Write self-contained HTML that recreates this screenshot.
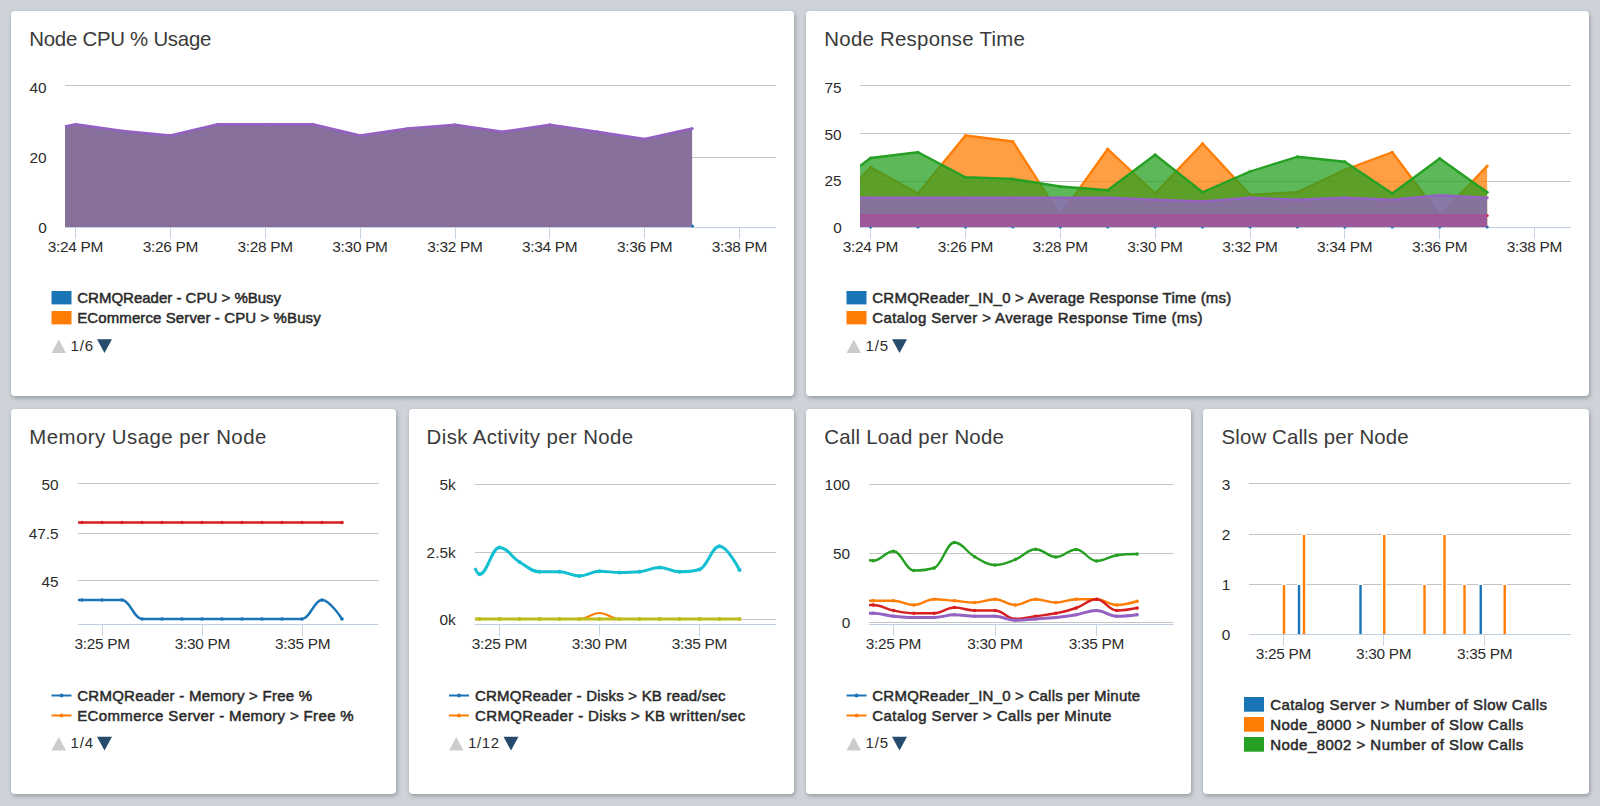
<!DOCTYPE html>
<html lang="en"><head><meta charset="utf-8"><title>Node Dashboard</title>
<style>
html,body{margin:0;padding:0;}
body{width:1600px;height:806px;background:#ced3d9;position:relative;overflow:hidden;font-family:"Liberation Sans", "DejaVu Sans", sans-serif;}
.p{position:absolute;background:#fff;border-radius:4px;box-shadow:1px 2px 4px rgba(0,0,0,0.28);}
svg{position:absolute;left:0;top:0;}
svg text{font-family:"Liberation Sans", "DejaVu Sans", sans-serif;}
.sb{fill:#2a2a2a;stroke:#2a2a2a;stroke-width:0.5px;paint-order:stroke fill;}
.t{fill:#3a3a3a;}
</style></head><body>
<div class="p" style="left:11px;top:11px;width:783px;height:385px"></div>
<div class="p" style="left:806px;top:11px;width:783px;height:385px"></div>
<div class="p" style="left:11px;top:408.5px;width:385px;height:385px"></div>
<div class="p" style="left:409px;top:408.5px;width:385px;height:385px"></div>
<div class="p" style="left:806px;top:408.5px;width:385px;height:385px"></div>
<div class="p" style="left:1203px;top:408.5px;width:386px;height:385px"></div>
<svg width="1600" height="806" viewBox="0 0 1600 806">
<text x="29.3" y="46" font-size="20.4" class="t" fill="#2c2c2c" textLength="182">Node CPU % Usage</text>
<text x="824.3" y="46" font-size="20.4" class="t" fill="#2c2c2c" textLength="200.5">Node Response Time</text>
<text x="29.3" y="443.5" font-size="20.4" class="t" fill="#2c2c2c" textLength="237">Memory Usage per Node</text>
<text x="426.6" y="443.5" font-size="20.4" class="t" fill="#2c2c2c" textLength="206.5">Disk Activity per Node</text>
<text x="824.3" y="443.5" font-size="20.4" class="t" fill="#2c2c2c" textLength="179.5">Call Load per Node</text>
<text x="1221.6" y="443.5" font-size="20.4" class="t" fill="#2c2c2c" textLength="187">Slow Calls per Node</text>
<g id="c1">
<path d="M65 85.5H776" stroke="#c4c4c4" stroke-width="1" fill="none"/>
<path d="M65 157.5H776" stroke="#c4c4c4" stroke-width="1" fill="none"/>
<path d="M65 227.5H776" stroke="#c0d0e0" stroke-width="1" fill="none"/>
<path d="M75.5 227.5V239" stroke="#c6d4e3" stroke-width="1" fill="none"/>
<path d="M170.5 227.5V239" stroke="#c6d4e3" stroke-width="1" fill="none"/>
<path d="M265.5 227.5V239" stroke="#c6d4e3" stroke-width="1" fill="none"/>
<path d="M360.5 227.5V239" stroke="#c6d4e3" stroke-width="1" fill="none"/>
<path d="M455.5 227.5V239" stroke="#c6d4e3" stroke-width="1" fill="none"/>
<path d="M549.5 227.5V239" stroke="#c6d4e3" stroke-width="1" fill="none"/>
<path d="M644.5 227.5V239" stroke="#c6d4e3" stroke-width="1" fill="none"/>
<path d="M739.5 227.5V239" stroke="#c6d4e3" stroke-width="1" fill="none"/>
<text x="46.7" y="92.7" font-size="15.4" text-anchor="end" fill="#2c2c2c">40</text>
<text x="46.7" y="163" font-size="15.4" text-anchor="end" fill="#2c2c2c">20</text>
<text x="46.7" y="233.2" font-size="15.4" text-anchor="end" fill="#2c2c2c">0</text>
<text x="75.6" y="252" font-size="15.4" text-anchor="middle" fill="#2c2c2c" textLength="55.6">3:24 PM</text>
<text x="170.45" y="252" font-size="15.4" text-anchor="middle" fill="#2c2c2c" textLength="55.6">3:26 PM</text>
<text x="265.3" y="252" font-size="15.4" text-anchor="middle" fill="#2c2c2c" textLength="55.6">3:28 PM</text>
<text x="360.15" y="252" font-size="15.4" text-anchor="middle" fill="#2c2c2c" textLength="55.6">3:30 PM</text>
<text x="455" y="252" font-size="15.4" text-anchor="middle" fill="#2c2c2c" textLength="55.6">3:32 PM</text>
<text x="549.85" y="252" font-size="15.4" text-anchor="middle" fill="#2c2c2c" textLength="55.6">3:34 PM</text>
<text x="644.7" y="252" font-size="15.4" text-anchor="middle" fill="#2c2c2c" textLength="55.6">3:36 PM</text>
<text x="739.55" y="252" font-size="15.4" text-anchor="middle" fill="#2c2c2c" textLength="55.6">3:38 PM</text>
<path d="M65 126.5L75.6 124.25L123.02 131L170.45 135.5L217.87 124.25L265.3 124.25L312.73 124.25L360.15 135.5L407.57 128.5L455 124.75L502.42 131.75L549.85 124.75L597.27 131.75L644.7 139L692.12 128.5L692.12 227L65 227Z" fill="#87719c"/>
<path d="M65 126.5L75.6 124.25L123.02 131L170.45 135.5L217.87 124.25L265.3 124.25L312.73 124.25L360.15 135.5L407.57 128.5L455 124.75L502.42 131.75L549.85 124.75L597.27 131.75L644.7 139L692.12 128.5" stroke="#9560c4" stroke-width="2.5" fill="none" stroke-linejoin="round"/>
<circle cx="75.6" cy="124.25" r="1.5" fill="#9563be"/>
<circle cx="123.02" cy="131" r="1.5" fill="#9563be"/>
<circle cx="170.45" cy="135.5" r="1.5" fill="#9563be"/>
<circle cx="217.87" cy="124.25" r="1.5" fill="#9563be"/>
<circle cx="265.3" cy="124.25" r="1.5" fill="#9563be"/>
<circle cx="312.73" cy="124.25" r="1.5" fill="#9563be"/>
<circle cx="360.15" cy="135.5" r="1.5" fill="#9563be"/>
<circle cx="407.57" cy="128.5" r="1.5" fill="#9563be"/>
<circle cx="455" cy="124.75" r="1.5" fill="#9563be"/>
<circle cx="502.42" cy="131.75" r="1.5" fill="#9563be"/>
<circle cx="549.85" cy="124.75" r="1.5" fill="#9563be"/>
<circle cx="597.27" cy="131.75" r="1.5" fill="#9563be"/>
<circle cx="644.7" cy="139" r="1.5" fill="#9563be"/>
<circle cx="692.12" cy="128.5" r="1.5" fill="#9563be"/>
<circle cx="692.5" cy="226" r="1.5" fill="#1a75b7"/>
<rect x="51.5" y="291" width="20" height="13.4" fill="#1a75b7"/>
<text x="77.2" y="303" font-size="15" class="sb" fill="#2c2c2c" textLength="203.9">CRMQReader - CPU &gt; %Busy</text>
<rect x="51.5" y="311" width="20" height="13.4" fill="#ff7d04"/>
<text x="77.2" y="323" font-size="15" class="sb" fill="#2c2c2c" textLength="243.5">ECommerce Server - CPU &gt; %Busy</text>
<path d="M51.5 353L58.75 339.5L66 353Z" fill="#cccccc"/>
<text x="70.5" y="350.5" font-size="15" fill="#2c2c2c" textLength="22.5">1/6</text>
<path d="M97 339.25L112 339.25L104.5 353Z" fill="#274b6d"/>
</g>
<g id="c2">
<path d="M860 85.5H1571" stroke="#c4c4c4" stroke-width="1" fill="none"/>
<path d="M860 133.5H1571" stroke="#c4c4c4" stroke-width="1" fill="none"/>
<path d="M860 181.5H1571" stroke="#c4c4c4" stroke-width="1" fill="none"/>
<path d="M860 227.5H1571" stroke="#c0d0e0" stroke-width="1" fill="none"/>
<path d="M870.5 227.5V239" stroke="#c6d4e3" stroke-width="1" fill="none"/>
<path d="M965.5 227.5V239" stroke="#c6d4e3" stroke-width="1" fill="none"/>
<path d="M1060.5 227.5V239" stroke="#c6d4e3" stroke-width="1" fill="none"/>
<path d="M1155.5 227.5V239" stroke="#c6d4e3" stroke-width="1" fill="none"/>
<path d="M1250.5 227.5V239" stroke="#c6d4e3" stroke-width="1" fill="none"/>
<path d="M1344.5 227.5V239" stroke="#c6d4e3" stroke-width="1" fill="none"/>
<path d="M1439.5 227.5V239" stroke="#c6d4e3" stroke-width="1" fill="none"/>
<path d="M1534.5 227.5V239" stroke="#c6d4e3" stroke-width="1" fill="none"/>
<text x="841.7" y="92.7" font-size="15.4" text-anchor="end" fill="#2c2c2c">75</text>
<text x="841.7" y="139.6" font-size="15.4" text-anchor="end" fill="#2c2c2c">50</text>
<text x="841.7" y="186.3" font-size="15.4" text-anchor="end" fill="#2c2c2c">25</text>
<text x="841.7" y="233.2" font-size="15.4" text-anchor="end" fill="#2c2c2c">0</text>
<text x="870.6" y="252" font-size="15.4" text-anchor="middle" fill="#2c2c2c" textLength="55.6">3:24 PM</text>
<text x="965.45" y="252" font-size="15.4" text-anchor="middle" fill="#2c2c2c" textLength="55.6">3:26 PM</text>
<text x="1060.3" y="252" font-size="15.4" text-anchor="middle" fill="#2c2c2c" textLength="55.6">3:28 PM</text>
<text x="1155.15" y="252" font-size="15.4" text-anchor="middle" fill="#2c2c2c" textLength="55.6">3:30 PM</text>
<text x="1250" y="252" font-size="15.4" text-anchor="middle" fill="#2c2c2c" textLength="55.6">3:32 PM</text>
<text x="1344.85" y="252" font-size="15.4" text-anchor="middle" fill="#2c2c2c" textLength="55.6">3:34 PM</text>
<text x="1439.7" y="252" font-size="15.4" text-anchor="middle" fill="#2c2c2c" textLength="55.6">3:36 PM</text>
<text x="1534.55" y="252" font-size="15.4" text-anchor="middle" fill="#2c2c2c" textLength="55.6">3:38 PM</text>
<clipPath id="k2"><rect x="860" y="80" width="711" height="147"/></clipPath>
<g clip-path="url(#k2)">
<path d="M860 227L870.6 227L918.02 227L965.45 227L1012.88 227L1060.3 227L1107.72 227L1155.15 227L1202.58 227L1250 227L1297.42 227L1344.85 227L1392.28 227L1439.7 227L1487.12 227L1487.12 227L860 227Z" fill="#1a75b7" fill-opacity="0.75"/>
<path d="M860 227L870.6 227L918.02 227L965.45 227L1012.88 227L1060.3 227L1107.72 227L1155.15 227L1202.58 227L1250 227L1297.42 227L1344.85 227L1392.28 227L1439.7 227L1487.12 227" stroke="#1a75b7" stroke-width="2.3" fill="none" stroke-linejoin="round"/>
</g>
<circle cx="870.6" cy="227" r="1.6" fill="#1a75b7"/>
<circle cx="918.02" cy="227" r="1.6" fill="#1a75b7"/>
<circle cx="965.45" cy="227" r="1.6" fill="#1a75b7"/>
<circle cx="1012.88" cy="227" r="1.6" fill="#1a75b7"/>
<circle cx="1060.3" cy="227" r="1.6" fill="#1a75b7"/>
<circle cx="1107.72" cy="227" r="1.6" fill="#1a75b7"/>
<circle cx="1155.15" cy="227" r="1.6" fill="#1a75b7"/>
<circle cx="1202.58" cy="227" r="1.6" fill="#1a75b7"/>
<circle cx="1250" cy="227" r="1.6" fill="#1a75b7"/>
<circle cx="1297.42" cy="227" r="1.6" fill="#1a75b7"/>
<circle cx="1344.85" cy="227" r="1.6" fill="#1a75b7"/>
<circle cx="1392.28" cy="227" r="1.6" fill="#1a75b7"/>
<circle cx="1439.7" cy="227" r="1.6" fill="#1a75b7"/>
<circle cx="1487.12" cy="227" r="1.6" fill="#1a75b7"/>
<g clip-path="url(#k2)">
<path d="M860 178.5L870.6 167.25L918.02 193.5L965.45 135.5L1012.88 141.5L1060.3 215.5L1107.72 149L1155.15 193.5L1202.58 143.5L1250 194.75L1297.42 192.25L1344.85 169.75L1392.28 152.25L1439.7 215.5L1487.12 166L1487.12 227L860 227Z" fill="#ff7d04" fill-opacity="0.75"/>
<path d="M860 178.5L870.6 167.25L918.02 193.5L965.45 135.5L1012.88 141.5L1060.3 215.5L1107.72 149L1155.15 193.5L1202.58 143.5L1250 194.75L1297.42 192.25L1344.85 169.75L1392.28 152.25L1439.7 215.5L1487.12 166" stroke="#ff7d04" stroke-width="2.3" fill="none" stroke-linejoin="round"/>
</g>
<circle cx="870.6" cy="167.25" r="1.6" fill="#ff7d04"/>
<circle cx="918.02" cy="193.5" r="1.6" fill="#ff7d04"/>
<circle cx="965.45" cy="135.5" r="1.6" fill="#ff7d04"/>
<circle cx="1012.88" cy="141.5" r="1.6" fill="#ff7d04"/>
<circle cx="1060.3" cy="215.5" r="1.6" fill="#ff7d04"/>
<circle cx="1107.72" cy="149" r="1.6" fill="#ff7d04"/>
<circle cx="1155.15" cy="193.5" r="1.6" fill="#ff7d04"/>
<circle cx="1202.58" cy="143.5" r="1.6" fill="#ff7d04"/>
<circle cx="1250" cy="194.75" r="1.6" fill="#ff7d04"/>
<circle cx="1297.42" cy="192.25" r="1.6" fill="#ff7d04"/>
<circle cx="1344.85" cy="169.75" r="1.6" fill="#ff7d04"/>
<circle cx="1392.28" cy="152.25" r="1.6" fill="#ff7d04"/>
<circle cx="1439.7" cy="215.5" r="1.6" fill="#ff7d04"/>
<circle cx="1487.12" cy="166" r="1.6" fill="#ff7d04"/>
<g clip-path="url(#k2)">
<path d="M860 166L870.6 158L918.02 152.25L965.45 177.25L1012.88 179L1060.3 186.5L1107.72 190.25L1155.15 154.75L1202.58 192.25L1250 171.5L1297.42 156.75L1344.85 161.75L1392.28 193.5L1439.7 158.5L1487.12 192.25L1487.12 227L860 227Z" fill="#25a022" fill-opacity="0.75"/>
<path d="M860 166L870.6 158L918.02 152.25L965.45 177.25L1012.88 179L1060.3 186.5L1107.72 190.25L1155.15 154.75L1202.58 192.25L1250 171.5L1297.42 156.75L1344.85 161.75L1392.28 193.5L1439.7 158.5L1487.12 192.25" stroke="#25a022" stroke-width="2.3" fill="none" stroke-linejoin="round"/>
</g>
<circle cx="870.6" cy="158" r="1.6" fill="#25a022"/>
<circle cx="918.02" cy="152.25" r="1.6" fill="#25a022"/>
<circle cx="965.45" cy="177.25" r="1.6" fill="#25a022"/>
<circle cx="1012.88" cy="179" r="1.6" fill="#25a022"/>
<circle cx="1060.3" cy="186.5" r="1.6" fill="#25a022"/>
<circle cx="1107.72" cy="190.25" r="1.6" fill="#25a022"/>
<circle cx="1155.15" cy="154.75" r="1.6" fill="#25a022"/>
<circle cx="1202.58" cy="192.25" r="1.6" fill="#25a022"/>
<circle cx="1250" cy="171.5" r="1.6" fill="#25a022"/>
<circle cx="1297.42" cy="156.75" r="1.6" fill="#25a022"/>
<circle cx="1344.85" cy="161.75" r="1.6" fill="#25a022"/>
<circle cx="1392.28" cy="193.5" r="1.6" fill="#25a022"/>
<circle cx="1439.7" cy="158.5" r="1.6" fill="#25a022"/>
<circle cx="1487.12" cy="192.25" r="1.6" fill="#25a022"/>
<g clip-path="url(#k2)">
<path d="M860 215.5L870.6 215.5L918.02 215.5L965.45 215.5L1012.88 215.5L1060.3 215.5L1107.72 215.5L1155.15 215.5L1202.58 215.5L1250 215.5L1297.42 215.5L1344.85 215.5L1392.28 215.5L1439.7 215.5L1487.12 215.5L1487.12 227L860 227Z" fill="#d71f1f" fill-opacity="0.75"/>
<path d="M860 215.5L870.6 215.5L918.02 215.5L965.45 215.5L1012.88 215.5L1060.3 215.5L1107.72 215.5L1155.15 215.5L1202.58 215.5L1250 215.5L1297.42 215.5L1344.85 215.5L1392.28 215.5L1439.7 215.5L1487.12 215.5" stroke="#d71f1f" stroke-width="2.3" fill="none" stroke-linejoin="round"/>
</g>
<circle cx="870.6" cy="215.5" r="1.6" fill="#d71f1f"/>
<circle cx="918.02" cy="215.5" r="1.6" fill="#d71f1f"/>
<circle cx="965.45" cy="215.5" r="1.6" fill="#d71f1f"/>
<circle cx="1012.88" cy="215.5" r="1.6" fill="#d71f1f"/>
<circle cx="1060.3" cy="215.5" r="1.6" fill="#d71f1f"/>
<circle cx="1107.72" cy="215.5" r="1.6" fill="#d71f1f"/>
<circle cx="1155.15" cy="215.5" r="1.6" fill="#d71f1f"/>
<circle cx="1202.58" cy="215.5" r="1.6" fill="#d71f1f"/>
<circle cx="1250" cy="215.5" r="1.6" fill="#d71f1f"/>
<circle cx="1297.42" cy="215.5" r="1.6" fill="#d71f1f"/>
<circle cx="1344.85" cy="215.5" r="1.6" fill="#d71f1f"/>
<circle cx="1392.28" cy="215.5" r="1.6" fill="#d71f1f"/>
<circle cx="1439.7" cy="215.5" r="1.6" fill="#d71f1f"/>
<circle cx="1487.12" cy="215.5" r="1.6" fill="#d71f1f"/>
<g clip-path="url(#k2)">
<path d="M860 197.75L870.6 197.75L918.02 197.75L965.45 197.75L1012.88 197.75L1060.3 197.75L1107.72 197.75L1155.15 199.75L1202.58 201.5L1250 197.75L1297.42 199.75L1344.85 197.75L1392.28 199.75L1439.7 195.25L1487.12 197.75L1487.12 227L860 227Z" fill="#9463c1" fill-opacity="0.75"/>
<path d="M860 197.75L870.6 197.75L918.02 197.75L965.45 197.75L1012.88 197.75L1060.3 197.75L1107.72 197.75L1155.15 199.75L1202.58 201.5L1250 197.75L1297.42 199.75L1344.85 197.75L1392.28 199.75L1439.7 195.25L1487.12 197.75" stroke="#9463c1" stroke-width="2.3" fill="none" stroke-linejoin="round"/>
</g>
<circle cx="870.6" cy="197.75" r="1.6" fill="#9463c1"/>
<circle cx="918.02" cy="197.75" r="1.6" fill="#9463c1"/>
<circle cx="965.45" cy="197.75" r="1.6" fill="#9463c1"/>
<circle cx="1012.88" cy="197.75" r="1.6" fill="#9463c1"/>
<circle cx="1060.3" cy="197.75" r="1.6" fill="#9463c1"/>
<circle cx="1107.72" cy="197.75" r="1.6" fill="#9463c1"/>
<circle cx="1155.15" cy="199.75" r="1.6" fill="#9463c1"/>
<circle cx="1202.58" cy="201.5" r="1.6" fill="#9463c1"/>
<circle cx="1250" cy="197.75" r="1.6" fill="#9463c1"/>
<circle cx="1297.42" cy="199.75" r="1.6" fill="#9463c1"/>
<circle cx="1344.85" cy="197.75" r="1.6" fill="#9463c1"/>
<circle cx="1392.28" cy="199.75" r="1.6" fill="#9463c1"/>
<circle cx="1439.7" cy="195.25" r="1.6" fill="#9463c1"/>
<circle cx="1487.12" cy="197.75" r="1.6" fill="#9463c1"/>
<rect x="846.5" y="291" width="20" height="13.4" fill="#1a75b7"/>
<text x="872.3" y="303" font-size="15" class="sb" fill="#2c2c2c" textLength="359">CRMQReader_IN_0 &gt; Average Response Time (ms)</text>
<rect x="846.5" y="311" width="20" height="13.4" fill="#ff7d04"/>
<text x="872.3" y="323" font-size="15" class="sb" fill="#2c2c2c" textLength="330.25">Catalog Server &gt; Average Response Time (ms)</text>
<path d="M846.5 353L853.75 339.5L861 353Z" fill="#cccccc"/>
<text x="865.5" y="350.5" font-size="15" fill="#2c2c2c" textLength="22.5">1/5</text>
<path d="M892 339.25L907 339.25L899.5 353Z" fill="#274b6d"/>
</g>
<g id="c3">
<path d="M78 483.5H378.5" stroke="#c4c4c4" stroke-width="1" fill="none"/>
<path d="M78 533.5H378.5" stroke="#c4c4c4" stroke-width="1" fill="none"/>
<path d="M78 580.5H378.5" stroke="#c4c4c4" stroke-width="1" fill="none"/>
<path d="M78 624.5H378.5" stroke="#c0d0e0" stroke-width="1" fill="none"/>
<path d="M102.5 624.5V636" stroke="#c6d4e3" stroke-width="1" fill="none"/>
<path d="M202.5 624.5V636" stroke="#c6d4e3" stroke-width="1" fill="none"/>
<path d="M302.5 624.5V636" stroke="#c6d4e3" stroke-width="1" fill="none"/>
<text x="58.7" y="490" font-size="15.4" text-anchor="end" fill="#2c2c2c">50</text>
<text x="58.7" y="538.6" font-size="15.4" text-anchor="end" fill="#2c2c2c">47.5</text>
<text x="58.7" y="587" font-size="15.4" text-anchor="end" fill="#2c2c2c">45</text>
<text x="102.25" y="649.25" font-size="15.4" text-anchor="middle" fill="#2c2c2c" textLength="55.6">3:25 PM</text>
<text x="202.5" y="649.25" font-size="15.4" text-anchor="middle" fill="#2c2c2c" textLength="55.6">3:30 PM</text>
<text x="302.75" y="649.25" font-size="15.4" text-anchor="middle" fill="#2c2c2c" textLength="55.6">3:35 PM</text>
<path d="M78 600C78 600 80.4 600 82 600C90 600 94 600 102 600C110 600 114 600 122 600C130 600 134 619 142 619C150 619 154 619 162 619C170 619 174 619 182 619C190 619 194 619 202 619C210 619 214 619 222 619C230 619 234 619 242 619C250 619 254 619 262 619C270 619 274 619 282 619C290 619 294 619 302 619C310 619 314 600 322 600C330 600 342 619 342 619" stroke="#1a75b7" stroke-width="2.4" fill="none" stroke-linejoin="round"/>
<circle cx="82" cy="600" r="1.8" fill="#1a75b7"/>
<circle cx="102" cy="600" r="1.8" fill="#1a75b7"/>
<circle cx="122" cy="600" r="1.8" fill="#1a75b7"/>
<circle cx="142" cy="619" r="1.8" fill="#1a75b7"/>
<circle cx="162" cy="619" r="1.8" fill="#1a75b7"/>
<circle cx="182" cy="619" r="1.8" fill="#1a75b7"/>
<circle cx="202" cy="619" r="1.8" fill="#1a75b7"/>
<circle cx="222" cy="619" r="1.8" fill="#1a75b7"/>
<circle cx="242" cy="619" r="1.8" fill="#1a75b7"/>
<circle cx="262" cy="619" r="1.8" fill="#1a75b7"/>
<circle cx="282" cy="619" r="1.8" fill="#1a75b7"/>
<circle cx="302" cy="619" r="1.8" fill="#1a75b7"/>
<circle cx="322" cy="600" r="1.8" fill="#1a75b7"/>
<circle cx="342" cy="619" r="1.8" fill="#1a75b7"/>
<path d="M78 522.5C78 522.5 80.4 522.5 82 522.5C90 522.5 94 522.5 102 522.5C110 522.5 114 522.5 122 522.5C130 522.5 134 522.5 142 522.5C150 522.5 154 522.5 162 522.5C170 522.5 174 522.5 182 522.5C190 522.5 194 522.5 202 522.5C210 522.5 214 522.5 222 522.5C230 522.5 234 522.5 242 522.5C250 522.5 254 522.5 262 522.5C270 522.5 274 522.5 282 522.5C290 522.5 294 522.5 302 522.5C310 522.5 314 522.5 322 522.5C330 522.5 342 522.5 342 522.5" stroke="#d71f1f" stroke-width="2.4" fill="none" stroke-linejoin="round"/>
<circle cx="82" cy="522.5" r="1.8" fill="#d71f1f"/>
<circle cx="102" cy="522.5" r="1.8" fill="#d71f1f"/>
<circle cx="122" cy="522.5" r="1.8" fill="#d71f1f"/>
<circle cx="142" cy="522.5" r="1.8" fill="#d71f1f"/>
<circle cx="162" cy="522.5" r="1.8" fill="#d71f1f"/>
<circle cx="182" cy="522.5" r="1.8" fill="#d71f1f"/>
<circle cx="202" cy="522.5" r="1.8" fill="#d71f1f"/>
<circle cx="222" cy="522.5" r="1.8" fill="#d71f1f"/>
<circle cx="242" cy="522.5" r="1.8" fill="#d71f1f"/>
<circle cx="262" cy="522.5" r="1.8" fill="#d71f1f"/>
<circle cx="282" cy="522.5" r="1.8" fill="#d71f1f"/>
<circle cx="302" cy="522.5" r="1.8" fill="#d71f1f"/>
<circle cx="322" cy="522.5" r="1.8" fill="#d71f1f"/>
<circle cx="342" cy="522.5" r="1.8" fill="#d71f1f"/>
<path d="M51.5 695.5H71.5" stroke="#1a75b7" stroke-width="2" fill="none"/>
<circle cx="61.5" cy="695.5" r="2" fill="#1a75b7"/>
<text x="77.2" y="700.5" font-size="15" class="sb" fill="#2c2c2c" textLength="235">CRMQReader - Memory &gt; Free %</text>
<path d="M51.5 715.5H71.5" stroke="#ff7d04" stroke-width="2" fill="none"/>
<circle cx="61.5" cy="715.5" r="2" fill="#ff7d04"/>
<text x="77.2" y="720.5" font-size="15" class="sb" fill="#2c2c2c" textLength="276.5">ECommerce Server - Memory &gt; Free %</text>
<path d="M51.5 750.5L58.75 737L66 750.5Z" fill="#cccccc"/>
<text x="70.5" y="748" font-size="15" fill="#2c2c2c" textLength="22.5">1/4</text>
<path d="M97 736.75L112 736.75L104.5 750.5Z" fill="#274b6d"/>
</g>
<g id="c4">
<path d="M475 484.5H776" stroke="#c4c4c4" stroke-width="1" fill="none"/>
<path d="M475 552.5H776" stroke="#c4c4c4" stroke-width="1" fill="none"/>
<path d="M475 619.5H776" stroke="#c4c4c4" stroke-width="1" fill="none"/>
<path d="M475 624.5H776" stroke="#c0d0e0" stroke-width="1" fill="none"/>
<path d="M499.5 624.5V636" stroke="#c6d4e3" stroke-width="1" fill="none"/>
<path d="M599.5 624.5V636" stroke="#c6d4e3" stroke-width="1" fill="none"/>
<path d="M699.5 624.5V636" stroke="#c6d4e3" stroke-width="1" fill="none"/>
<text x="455.7" y="490" font-size="15.4" text-anchor="end" fill="#2c2c2c">5k</text>
<text x="455.7" y="557.6" font-size="15.4" text-anchor="end" fill="#2c2c2c">2.5k</text>
<text x="455.7" y="625" font-size="15.4" text-anchor="end" fill="#2c2c2c">0k</text>
<text x="499.5" y="649.25" font-size="15.4" text-anchor="middle" fill="#2c2c2c" textLength="55.6">3:25 PM</text>
<text x="599.5" y="649.25" font-size="15.4" text-anchor="middle" fill="#2c2c2c" textLength="55.6">3:30 PM</text>
<text x="699.5" y="649.25" font-size="15.4" text-anchor="middle" fill="#2c2c2c" textLength="55.6">3:35 PM</text>
<path d="M475 568C475 568 477.7 574.25 479.5 574.25C487.5 574.25 491.5 547.5 499.5 547.5C507.5 547.5 511.5 557.15 519.5 562C527.5 566.85 531.5 571.75 539.5 571.75C547.5 571.75 551.5 571.75 559.5 571.75C567.5 571.75 571.5 576 579.5 576C587.5 576 591.5 571.25 599.5 571.25C607.5 571.25 611.5 572.5 619.5 572.5C627.5 572.5 631.5 572.5 639.5 571.75C647.5 571 651.5 567.5 659.5 567.5C667.5 567.5 671.5 571.75 679.5 571.75C687.5 571.75 691.5 571.75 699.5 569.5C707.5 567.25 711.5 546.25 719.5 546.25C727.5 546.25 739.5 570 739.5 570" stroke="#13bfd0" stroke-width="3" fill="none" stroke-linejoin="round"/>
<circle cx="479.5" cy="574.25" r="2" fill="#13bfd0"/>
<circle cx="499.5" cy="547.5" r="2" fill="#13bfd0"/>
<circle cx="519.5" cy="562" r="2" fill="#13bfd0"/>
<circle cx="539.5" cy="571.75" r="2" fill="#13bfd0"/>
<circle cx="559.5" cy="571.75" r="2" fill="#13bfd0"/>
<circle cx="579.5" cy="576" r="2" fill="#13bfd0"/>
<circle cx="599.5" cy="571.25" r="2" fill="#13bfd0"/>
<circle cx="619.5" cy="572.5" r="2" fill="#13bfd0"/>
<circle cx="639.5" cy="571.75" r="2" fill="#13bfd0"/>
<circle cx="659.5" cy="567.5" r="2" fill="#13bfd0"/>
<circle cx="679.5" cy="571.75" r="2" fill="#13bfd0"/>
<circle cx="699.5" cy="569.5" r="2" fill="#13bfd0"/>
<circle cx="719.5" cy="546.25" r="2" fill="#13bfd0"/>
<circle cx="739.5" cy="570" r="2" fill="#13bfd0"/>
<path d="M475 619C475 619 477.7 619 479.5 619C487.5 619 491.5 619 499.5 619C507.5 619 511.5 619 519.5 619C527.5 619 531.5 619 539.5 619C547.5 619 551.5 619 559.5 619C567.5 619 571.5 619 579.5 619C587.5 619 591.5 613 599.5 613C607.5 613 611.5 619 619.5 619C627.5 619 631.5 619 639.5 619C647.5 619 651.5 619 659.5 619C667.5 619 671.5 619 679.5 619C687.5 619 691.5 619 699.5 619C707.5 619 711.5 619 719.5 619C727.5 619 739.5 619 739.5 619" stroke="#ff7d04" stroke-width="2" fill="none" stroke-linejoin="round"/>
<path d="M475 619L479.5 619L499.5 619L519.5 619L539.5 619L559.5 619L579.5 619L599.5 619L619.5 619L639.5 619L659.5 619L679.5 619L699.5 619L719.5 619L739.5 619" stroke="#bcbd1c" stroke-width="3.2" fill="none"/>
<circle cx="479.5" cy="619" r="2" fill="#bcbd1c"/>
<circle cx="499.5" cy="619" r="2" fill="#bcbd1c"/>
<circle cx="519.5" cy="619" r="2" fill="#bcbd1c"/>
<circle cx="539.5" cy="619" r="2" fill="#bcbd1c"/>
<circle cx="559.5" cy="619" r="2" fill="#bcbd1c"/>
<circle cx="579.5" cy="619" r="2" fill="#bcbd1c"/>
<circle cx="599.5" cy="619" r="2" fill="#bcbd1c"/>
<circle cx="619.5" cy="619" r="2" fill="#bcbd1c"/>
<circle cx="639.5" cy="619" r="2" fill="#bcbd1c"/>
<circle cx="659.5" cy="619" r="2" fill="#bcbd1c"/>
<circle cx="679.5" cy="619" r="2" fill="#bcbd1c"/>
<circle cx="699.5" cy="619" r="2" fill="#bcbd1c"/>
<circle cx="719.5" cy="619" r="2" fill="#bcbd1c"/>
<circle cx="739.5" cy="619" r="2" fill="#bcbd1c"/>
<path d="M449 695.5H469" stroke="#1a75b7" stroke-width="2" fill="none"/>
<circle cx="459" cy="695.5" r="2" fill="#1a75b7"/>
<text x="475" y="700.5" font-size="15" class="sb" fill="#2c2c2c" textLength="250.5">CRMQReader - Disks &gt; KB read/sec</text>
<path d="M449 715.5H469" stroke="#ff7d04" stroke-width="2" fill="none"/>
<circle cx="459" cy="715.5" r="2" fill="#ff7d04"/>
<text x="475" y="720.5" font-size="15" class="sb" fill="#2c2c2c" textLength="270.2">CRMQReader - Disks &gt; KB written/sec</text>
<path d="M449 750.5L456.25 737L463.5 750.5Z" fill="#cccccc"/>
<text x="468" y="748" font-size="15" fill="#2c2c2c" textLength="31">1/12</text>
<path d="M503.5 736.75L518.5 736.75L511 750.5Z" fill="#274b6d"/>
</g>
<g id="c5">
<path d="M869 484.5H1173.5" stroke="#c4c4c4" stroke-width="1" fill="none"/>
<path d="M869 553.5H1173.5" stroke="#c4c4c4" stroke-width="1" fill="none"/>
<path d="M869 622.5H1173.5" stroke="#c4c4c4" stroke-width="1" fill="none"/>
<path d="M869 624.5H1173.5" stroke="#c0d0e0" stroke-width="1" fill="none"/>
<path d="M893.5 624.5V636" stroke="#c6d4e3" stroke-width="1" fill="none"/>
<path d="M995.5 624.5V636" stroke="#c6d4e3" stroke-width="1" fill="none"/>
<path d="M1096.5 624.5V636" stroke="#c6d4e3" stroke-width="1" fill="none"/>
<text x="850.2" y="490" font-size="15.4" text-anchor="end" fill="#2c2c2c">100</text>
<text x="850.2" y="559.2" font-size="15.4" text-anchor="end" fill="#2c2c2c">50</text>
<text x="850.2" y="627.9" font-size="15.4" text-anchor="end" fill="#2c2c2c">0</text>
<text x="893.5" y="649.25" font-size="15.4" text-anchor="middle" fill="#2c2c2c" textLength="55.6">3:25 PM</text>
<text x="995" y="649.25" font-size="15.4" text-anchor="middle" fill="#2c2c2c" textLength="55.6">3:30 PM</text>
<text x="1096.5" y="649.25" font-size="15.4" text-anchor="middle" fill="#2c2c2c" textLength="55.6">3:35 PM</text>
<path d="M869 600.75C869 600.75 871.52 600.75 873.2 600.75C881.32 600.75 885.38 600.75 893.5 600.75C901.62 600.75 905.68 605 913.8 605C921.92 605 925.98 599.25 934.1 599.25C942.22 599.25 946.28 600.1 954.4 600.75C962.52 601.4 966.58 602.5 974.7 602.5C982.82 602.5 986.88 599.25 995 599.25C1003.12 599.25 1007.18 605 1015.3 605C1023.42 605 1027.48 599.25 1035.6 599.25C1043.72 599.25 1047.78 602.5 1055.9 602.5C1064.02 602.5 1068.08 599.25 1076.2 599.25C1084.32 599.25 1088.38 599.25 1096.5 599.25C1104.62 599.25 1108.68 605 1116.8 605C1124.92 605 1137.1 601.25 1137.1 601.25" stroke="#ff7d04" stroke-width="2.4" fill="none" stroke-linejoin="round"/>
<circle cx="873.2" cy="600.75" r="1.8" fill="#ff7d04"/>
<circle cx="893.5" cy="600.75" r="1.8" fill="#ff7d04"/>
<circle cx="913.8" cy="605" r="1.8" fill="#ff7d04"/>
<circle cx="934.1" cy="599.25" r="1.8" fill="#ff7d04"/>
<circle cx="954.4" cy="600.75" r="1.8" fill="#ff7d04"/>
<circle cx="974.7" cy="602.5" r="1.8" fill="#ff7d04"/>
<circle cx="995" cy="599.25" r="1.8" fill="#ff7d04"/>
<circle cx="1015.3" cy="605" r="1.8" fill="#ff7d04"/>
<circle cx="1035.6" cy="599.25" r="1.8" fill="#ff7d04"/>
<circle cx="1055.9" cy="602.5" r="1.8" fill="#ff7d04"/>
<circle cx="1076.2" cy="599.25" r="1.8" fill="#ff7d04"/>
<circle cx="1096.5" cy="599.25" r="1.8" fill="#ff7d04"/>
<circle cx="1116.8" cy="605" r="1.8" fill="#ff7d04"/>
<circle cx="1137.1" cy="601.25" r="1.8" fill="#ff7d04"/>
<path d="M869 560C869 560 871.52 560.75 873.2 560.75C881.32 560.75 885.38 551.25 893.5 551.25C901.62 551.25 905.68 570.5 913.8 570.5C921.92 570.5 925.98 570.5 934.1 568C942.22 565.5 946.28 542.5 954.4 542.5C962.52 542.5 966.58 552.25 974.7 556.75C982.82 561.25 986.88 565 995 565C1003.12 565 1007.18 562.65 1015.3 559.5C1023.42 556.35 1027.48 549.25 1035.6 549.25C1043.72 549.25 1047.78 557 1055.9 557C1064.02 557 1068.08 549.5 1076.2 549.5C1084.32 549.5 1088.38 561 1096.5 561C1104.62 561 1108.68 556.5 1116.8 555.25C1124.92 554 1137.1 554 1137.1 554" stroke="#25a022" stroke-width="2.4" fill="none" stroke-linejoin="round"/>
<circle cx="873.2" cy="560.75" r="1.8" fill="#25a022"/>
<circle cx="893.5" cy="551.25" r="1.8" fill="#25a022"/>
<circle cx="913.8" cy="570.5" r="1.8" fill="#25a022"/>
<circle cx="934.1" cy="568" r="1.8" fill="#25a022"/>
<circle cx="954.4" cy="542.5" r="1.8" fill="#25a022"/>
<circle cx="974.7" cy="556.75" r="1.8" fill="#25a022"/>
<circle cx="995" cy="565" r="1.8" fill="#25a022"/>
<circle cx="1015.3" cy="559.5" r="1.8" fill="#25a022"/>
<circle cx="1035.6" cy="549.25" r="1.8" fill="#25a022"/>
<circle cx="1055.9" cy="557" r="1.8" fill="#25a022"/>
<circle cx="1076.2" cy="549.5" r="1.8" fill="#25a022"/>
<circle cx="1096.5" cy="561" r="1.8" fill="#25a022"/>
<circle cx="1116.8" cy="555.25" r="1.8" fill="#25a022"/>
<circle cx="1137.1" cy="554" r="1.8" fill="#25a022"/>
<path d="M869 605C869 605 871.52 605 873.2 605C881.32 605 885.38 608.85 893.5 610.5C901.62 612.15 905.68 613.25 913.8 613.25C921.92 613.25 925.98 613.25 934.1 613.25C942.22 613.25 946.28 607.5 954.4 607.5C962.52 607.5 966.58 610.5 974.7 610.5C982.82 610.5 986.88 610.5 995 610.5C1003.12 610.5 1007.18 619 1015.3 619C1023.42 619 1027.48 617.4 1035.6 616.25C1043.72 615.1 1047.78 614.9 1055.9 613.25C1064.02 611.6 1068.08 610.8 1076.2 608C1084.32 605.2 1088.38 599.25 1096.5 599.25C1104.62 599.25 1108.68 610.5 1116.8 610.5C1124.92 610.5 1137.1 608 1137.1 608" stroke="#d71f1f" stroke-width="2.4" fill="none" stroke-linejoin="round"/>
<circle cx="873.2" cy="605" r="1.8" fill="#d71f1f"/>
<circle cx="893.5" cy="610.5" r="1.8" fill="#d71f1f"/>
<circle cx="913.8" cy="613.25" r="1.8" fill="#d71f1f"/>
<circle cx="934.1" cy="613.25" r="1.8" fill="#d71f1f"/>
<circle cx="954.4" cy="607.5" r="1.8" fill="#d71f1f"/>
<circle cx="974.7" cy="610.5" r="1.8" fill="#d71f1f"/>
<circle cx="995" cy="610.5" r="1.8" fill="#d71f1f"/>
<circle cx="1015.3" cy="619" r="1.8" fill="#d71f1f"/>
<circle cx="1035.6" cy="616.25" r="1.8" fill="#d71f1f"/>
<circle cx="1055.9" cy="613.25" r="1.8" fill="#d71f1f"/>
<circle cx="1076.2" cy="608" r="1.8" fill="#d71f1f"/>
<circle cx="1096.5" cy="599.25" r="1.8" fill="#d71f1f"/>
<circle cx="1116.8" cy="610.5" r="1.8" fill="#d71f1f"/>
<circle cx="1137.1" cy="608" r="1.8" fill="#d71f1f"/>
<path d="M869 613.25C869 613.25 871.52 613.25 873.2 613.25C881.32 613.25 885.38 615.4 893.5 616.25C901.62 617.1 905.68 617.5 913.8 617.5C921.92 617.5 925.98 617.5 934.1 617.5C942.22 617.5 946.28 614.75 954.4 614.75C962.52 614.75 966.58 616.25 974.7 616.25C982.82 616.25 986.88 616.25 995 616.25C1003.12 616.25 1007.18 620.25 1015.3 620.25C1023.42 620.25 1027.48 619.55 1035.6 619C1043.72 618.45 1047.78 618.35 1055.9 617.5C1064.02 616.65 1068.08 616.15 1076.2 614.75C1084.32 613.35 1088.38 610.5 1096.5 610.5C1104.62 610.5 1108.68 616.25 1116.8 616.25C1124.92 616.25 1137.1 614.75 1137.1 614.75" stroke="#9463c1" stroke-width="3" fill="none" stroke-linejoin="round"/>
<circle cx="873.2" cy="613.25" r="1.8" fill="#9463c1"/>
<circle cx="893.5" cy="616.25" r="1.8" fill="#9463c1"/>
<circle cx="913.8" cy="617.5" r="1.8" fill="#9463c1"/>
<circle cx="934.1" cy="617.5" r="1.8" fill="#9463c1"/>
<circle cx="954.4" cy="614.75" r="1.8" fill="#9463c1"/>
<circle cx="974.7" cy="616.25" r="1.8" fill="#9463c1"/>
<circle cx="995" cy="616.25" r="1.8" fill="#9463c1"/>
<circle cx="1015.3" cy="620.25" r="1.8" fill="#9463c1"/>
<circle cx="1035.6" cy="619" r="1.8" fill="#9463c1"/>
<circle cx="1055.9" cy="617.5" r="1.8" fill="#9463c1"/>
<circle cx="1076.2" cy="614.75" r="1.8" fill="#9463c1"/>
<circle cx="1096.5" cy="610.5" r="1.8" fill="#9463c1"/>
<circle cx="1116.8" cy="616.25" r="1.8" fill="#9463c1"/>
<circle cx="1137.1" cy="614.75" r="1.8" fill="#9463c1"/>
<path d="M846.5 695.5H866.5" stroke="#1a75b7" stroke-width="2" fill="none"/>
<circle cx="856.5" cy="695.5" r="2" fill="#1a75b7"/>
<text x="872.3" y="700.5" font-size="15" class="sb" fill="#2c2c2c" textLength="267.9">CRMQReader_IN_0 &gt; Calls per Minute</text>
<path d="M846.5 715.5H866.5" stroke="#ff7d04" stroke-width="2" fill="none"/>
<circle cx="856.5" cy="715.5" r="2" fill="#ff7d04"/>
<text x="872.3" y="720.5" font-size="15" class="sb" fill="#2c2c2c" textLength="239.1">Catalog Server &gt; Calls per Minute</text>
<path d="M846.5 750.5L853.75 737L861 750.5Z" fill="#cccccc"/>
<text x="865.5" y="748" font-size="15" fill="#2c2c2c" textLength="22.5">1/5</text>
<path d="M892 736.75L907 736.75L899.5 750.5Z" fill="#274b6d"/>
</g>
<g id="c6">
<path d="M1249 483.5H1571" stroke="#c4c4c4" stroke-width="1" fill="none"/>
<path d="M1249 534.5H1571" stroke="#c4c4c4" stroke-width="1" fill="none"/>
<path d="M1249 584.5H1571" stroke="#c4c4c4" stroke-width="1" fill="none"/>
<path d="M1249 634.5H1571" stroke="#c0d0e0" stroke-width="1" fill="none"/>
<path d="M1283.5 634.5V646" stroke="#c6d4e3" stroke-width="1" fill="none"/>
<path d="M1383.5 634.5V646" stroke="#c6d4e3" stroke-width="1" fill="none"/>
<path d="M1484.5 634.5V646" stroke="#c6d4e3" stroke-width="1" fill="none"/>
<text x="1230.2" y="490" font-size="15.4" text-anchor="end" fill="#2c2c2c">3</text>
<text x="1230.2" y="540" font-size="15.4" text-anchor="end" fill="#2c2c2c">2</text>
<text x="1230.2" y="590" font-size="15.4" text-anchor="end" fill="#2c2c2c">1</text>
<text x="1230.2" y="640" font-size="15.4" text-anchor="end" fill="#2c2c2c">0</text>
<text x="1283.5" y="659.25" font-size="15.4" text-anchor="middle" fill="#2c2c2c" textLength="55.6">3:25 PM</text>
<text x="1383.7" y="659.25" font-size="15.4" text-anchor="middle" fill="#2c2c2c" textLength="55.6">3:30 PM</text>
<text x="1484.8" y="659.25" font-size="15.4" text-anchor="middle" fill="#2c2c2c" textLength="55.6">3:35 PM</text>
<rect x="1281.8" y="584" width="4.4" height="50" fill="#fff"/>
<rect x="1282.8" y="585" width="2.4" height="49" fill="#ff7d04"/>
<rect x="1296.8" y="584" width="4.4" height="50" fill="#fff"/>
<rect x="1297.8" y="585" width="2.4" height="49" fill="#1a75b7"/>
<rect x="1301.8" y="534" width="4.4" height="100" fill="#fff"/>
<rect x="1302.8" y="535" width="2.4" height="99" fill="#ff7d04"/>
<rect x="1358.3" y="584" width="4.4" height="50" fill="#fff"/>
<rect x="1359.3" y="585" width="2.4" height="49" fill="#1a75b7"/>
<rect x="1382.05" y="534" width="4.4" height="100" fill="#fff"/>
<rect x="1383.05" y="535" width="2.4" height="99" fill="#ff7d04"/>
<rect x="1422.3" y="584" width="4.4" height="50" fill="#fff"/>
<rect x="1423.3" y="585" width="2.4" height="49" fill="#ff7d04"/>
<rect x="1442.3" y="534" width="4.4" height="100" fill="#fff"/>
<rect x="1443.3" y="535" width="2.4" height="99" fill="#ff7d04"/>
<rect x="1462.3" y="584" width="4.4" height="50" fill="#fff"/>
<rect x="1463.3" y="585" width="2.4" height="49" fill="#ff7d04"/>
<rect x="1478.55" y="584" width="4.4" height="50" fill="#fff"/>
<rect x="1479.55" y="585" width="2.4" height="49" fill="#1a75b7"/>
<rect x="1502.55" y="584" width="4.4" height="50" fill="#fff"/>
<rect x="1503.55" y="585" width="2.4" height="49" fill="#ff7d04"/>
<rect x="1244" y="697" width="20" height="14.7" fill="#1a75b7"/>
<text x="1270.2" y="710.1" font-size="15" class="sb" fill="#2c2c2c" textLength="276.7">Catalog Server &gt; Number of Slow Calls</text>
<rect x="1244" y="717" width="20" height="14.7" fill="#ff7d04"/>
<text x="1270.2" y="730.1" font-size="15" class="sb" fill="#2c2c2c" textLength="253.1">Node_8000 &gt; Number of Slow Calls</text>
<rect x="1244" y="737" width="20" height="14.7" fill="#25a022"/>
<text x="1270.2" y="750.1" font-size="15" class="sb" fill="#2c2c2c" textLength="253.1">Node_8002 &gt; Number of Slow Calls</text>
</g>
</svg></body></html>
